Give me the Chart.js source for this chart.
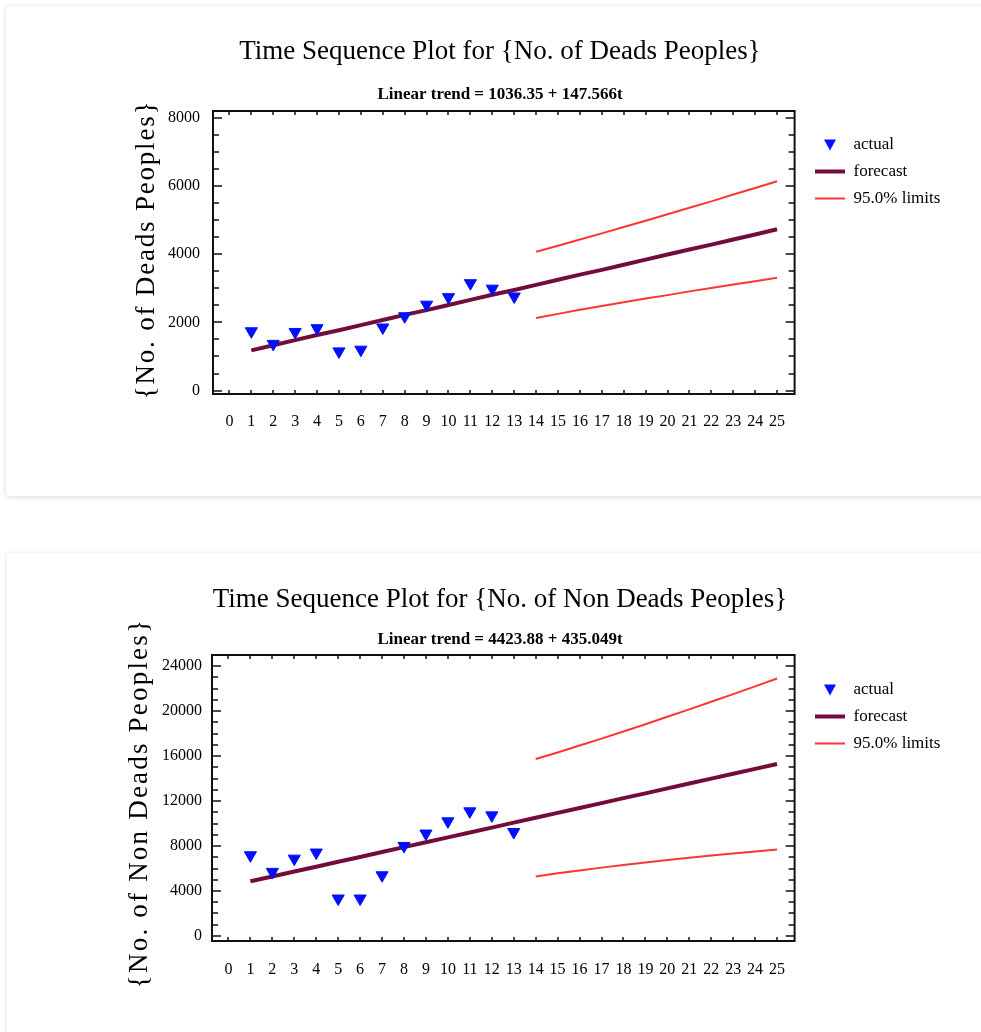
<!DOCTYPE html>
<html>
<head>
<meta charset="utf-8">
<script src="https://cdn.jsdelivr.net/npm/chart.js@4.4.1/dist/chart.umd.min.js"></script>
<style>
  body { margin: 0; background: #fff; overflow: hidden; width: 981px; height: 1032px; position: relative; }
  .card { position: absolute; background: #fff; border-radius: 4px; box-shadow: 0 1px 5px rgba(0,0,0,0.16); }
  .box { position: absolute; left: 0; width: 981px; }
</style>
</head>
<body>
<div class="card" style="left:6px; top:6px; width:1000px; height:490px;"></div>
<div class="card" style="left:7px; top:553px; width:1000px; height:500px;"></div>
<div class="box" style="top:20px; height:434px;"><canvas id="deadsChart"></canvas></div>
<div class="box" style="top:570px; height:431px;"><canvas id="nonDeadsChart"></canvas></div>
<script>
// periods
const tActual = [1, 2, 3, 4, 5, 6, 7, 8, 9, 10, 11, 12, 13];
const tForecast = [1, 2, 3, 4, 5, 6, 7, 8, 9, 10, 11, 12, 13, 14, 15, 16, 17, 18, 19, 20, 21, 22, 23, 24, 25];
const tLimits = [14, 15, 16, 17, 18, 19, 20, 21, 22, 23, 24, 25];
const xTicks = [0, 1, 2, 3, 4, 5, 6, 7, 8, 9, 10, 11, 12, 13, 14, 15, 16, 17, 18, 19, 20, 21, 22, 23, 24, 25];

// No. of Deads Peoples
const deadsActual = [1740, 1370, 1720, 1830, 1150, 1200, 1850, 2180, 2520, 2740, 3150, 2990, 2760];
const deadsForecast = [1180, 1330, 1480, 1630, 1770, 1920, 2070, 2220, 2360, 2510, 2660, 2810, 2950,
  3100, 3250, 3400, 3540, 3690, 3840, 3990, 4140, 4280, 4430, 4580, 4730];
const deadsUpper = [4070, 4250, 4430, 4610, 4800, 4980, 5170, 5360, 5550, 5750, 5940, 6140];
const deadsLower = [2130, 2250, 2370, 2480, 2590, 2700, 2800, 2910, 3010, 3110, 3210, 3310];
const deadsYTicks = [0, 2000, 4000, 6000, 8000];

// No. of Non Deads Peoples
const nonDeadsActual = [7180, 5700, 6880, 7420, 3330, 3330, 5400, 8010, 9110, 10200, 11090, 10730, 9250];
const nonDeadsForecast = [4860, 5290, 5730, 6160, 6600, 7030, 7470, 7900, 8340, 8770, 9210, 9640, 10080,
  10520, 10950, 11390, 11820, 12260, 12690, 13130, 13560, 14000, 14430, 14870, 15300];
const nonDeadsUpper = [15740, 16330, 16940, 17560, 18190, 18840, 19500, 20160, 20840, 21520, 22210, 22910];
const nonDeadsLower = [5290, 5570, 5830, 6080, 6320, 6540, 6750, 6960, 7150, 7340, 7520, 7690];
const nonDeadsYTicks = [0, 4000, 8000, 12000, 16000, 20000, 24000];

const serif = "'Liberation Serif', 'Times New Roman', serif";
const blue = '#0010ff';
Chart.defaults.color = '#000';
Chart.defaults.font.family = serif;

const pts = (xs, ys) => xs.map((x, i) => ({ x: x, y: ys[i] }));

// small down triangle for the legend (so the line width doesn't stretch it)
const triIcon = document.createElement('canvas');
triIcon.width = 14; triIcon.height = 14;
const tc = triIcon.getContext('2d');
tc.fillStyle = blue;
tc.beginPath(); tc.moveTo(1, 2); tc.lineTo(13, 2); tc.lineTo(7, 13); tc.closePath(); tc.fill();

// box frame, inward tick marks, spaced y title, legend placement
const frameTicks = {
  id: 'frameTicks',
  afterLayout(chart, args, opts) {
    const lg = chart.legend;
    if (!lg) return;
    const w = lg.right - lg.left, h = lg.bottom - lg.top;
    lg.left = opts.legendX; lg.right = lg.left + w;
    lg.top = opts.legendY; lg.bottom = lg.top + h;
  },
  beforeDatasetsDraw(chart, args, opts) {
    const { ctx, chartArea: a, scales: { x, y } } = chart;
    ctx.save();
    ctx.strokeStyle = '#111';
    ctx.lineWidth = 1.5;
    ctx.beginPath();
    y.ticks.forEach(t => {
      const py = Math.round(y.getPixelForValue(t.value));
      const len = t.label ? 9 : 6;
      ctx.moveTo(a.left, py); ctx.lineTo(a.left + len, py);
      ctx.moveTo(a.right, py); ctx.lineTo(a.right - len, py);
    });
    x.ticks.forEach(t => {
      const px = Math.round(x.getPixelForValue(t.value));
      ctx.moveTo(px, a.bottom); ctx.lineTo(px, a.bottom - 4);
      ctx.moveTo(px, a.top); ctx.lineTo(px, a.top + 4);
    });
    ctx.stroke();
    ctx.lineWidth = 2;
    ctx.strokeRect(a.left, a.top, a.right - a.left, a.bottom - a.top);

    // y axis title
    ctx.translate(opts.titleX, (a.top + a.bottom) / 2 + opts.titleShift);
    ctx.rotate(-Math.PI / 2);
    ctx.font = '27px ' + serif;
    ctx.letterSpacing = opts.spacing;
    ctx.fillStyle = '#000';
    ctx.textAlign = 'center';
    ctx.textBaseline = 'middle';
    ctx.fillText(opts.title, 0, 0);
    ctx.restore();
  }
};

function makeChart(id, o) {
  const minor = [];
  for (let v = 0; v <= o.yTicks[o.yTicks.length - 1]; v += o.yMinor) minor.push(v);
  return new Chart(document.getElementById(id), {
    type: 'scatter',
    data: {
      datasets: [
        {
          label: 'actual',
          data: pts(tActual, o.actual),
          pointStyle: 'triangle',
          rotation: 180,
          pointRadius: 7,
          backgroundColor: blue,
          borderColor: blue,
          borderWidth: 1,
          showLine: false
        },
        {
          label: 'forecast',
          data: pts(tForecast, o.forecast),
          showLine: true,
          pointRadius: 0,
          pointStyle: 'line',
          borderColor: '#720c3a',
          backgroundColor: '#720c3a',
          borderWidth: 4
        },
        {
          label: '95.0% limits',
          data: pts(tLimits, o.upper),
          showLine: true,
          pointRadius: 0,
          pointStyle: 'line',
          borderColor: '#ff3535',
          backgroundColor: '#ff3535',
          borderWidth: 2
        },
        {
          label: '',
          data: pts(tLimits, o.lower),
          showLine: true,
          pointRadius: 0,
          pointStyle: 'line',
          borderColor: '#ff3535',
          backgroundColor: '#ff3535',
          borderWidth: 2
        }
      ]
    },
    options: {
      responsive: true,
      maintainAspectRatio: false,
      animation: false,
      layout: { padding: { left: o.padLeft, right: o.padRight, top: 0, bottom: 0 } },
      plugins: {
        tooltip: { enabled: false },
        frameTicks: {
          title: o.yTitle, titleX: o.yTitleX, titleShift: o.yTitleShift, spacing: o.yTitleSpacing,
          legendX: 805, legendY: o.legendY
        },
        title: {
          display: true,
          text: o.title,
          font: { size: 27, weight: 'normal', family: serif },
          padding: { top: o.titleTop, bottom: o.titleBottom }
        },
        subtitle: {
          display: true,
          text: o.subtitle,
          font: { size: 17, weight: 'bold', family: serif },
          padding: { top: 0, bottom: o.subBottom }
        },
        legend: {
          position: 'right',
          align: 'start',
          labels: {
            usePointStyle: true,
            pointStyleWidth: 30,
            boxHeight: 9,
            padding: 10,
            font: { size: 17, family: serif },
            generateLabels: chart => Chart.defaults.plugins.legend.labels.generateLabels(chart)
              .filter(item => item.text !== '')
              .map(item => (item.datasetIndex === 0 ? Object.assign(item, { pointStyle: triIcon, rotation: 0 }) : item))
          }
        }
      },
      scales: {
        x: {
          type: 'linear',
          min: -0.75,
          max: 25.8,
          grid: { display: false },
          border: { display: false },
          afterBuildTicks: s => { s.ticks = xTicks.map(v => ({ value: v })); },
          afterFit: s => { s.height = 60; },
          ticks: { autoSkip: false, maxRotation: 0, padding: o.xPad, font: { size: 16, family: serif } }
        },
        y: {
          min: o.yMin,
          max: o.yMax,
          grid: { display: false },
          border: { display: false },
          afterBuildTicks: s => { s.ticks = minor.map(v => ({ value: v })); },
          afterFit: s => { s.width = o.frameLeft - o.padLeft; },
          ticks: {
            autoSkip: false,
            padding: o.yPad,
            font: { size: 16, family: serif },
            callback: v => (o.yTicks.includes(v) ? String(v) : '')
          }
        }
      }
    },
    plugins: [frameTicks]
  });
}

makeChart('deadsChart', {
  title: 'Time Sequence Plot for {No. of Deads Peoples}',
  subtitle: 'Linear trend = 1036.35 + 147.566t',
  yTitle: '{No. of Deads Peoples}',
  actual: deadsActual, forecast: deadsForecast, upper: deadsUpper, lower: deadsLower,
  yTicks: deadsYTicks, yMinor: 500, yMin: -100, yMax: 8200,
  padLeft: 60, padRight: 41, frameLeft: 213,
  titleTop: 15.8, titleBottom: 16.6, subBottom: 5.8, legendY: 106,
  xPad: 10, yPad: 5, yTitleX: 147, yTitleShift: -3, yTitleSpacing: '1.8px'
});

makeChart('nonDeadsChart', {
  title: 'Time Sequence Plot for {No. of Non Deads Peoples}',
  subtitle: 'Linear trend = 4423.88 + 435.049t',
  yTitle: '{No. of Non Deads Peoples}',
  actual: nonDeadsActual, forecast: nonDeadsForecast, upper: nonDeadsUpper, lower: nonDeadsLower,
  yTicks: nonDeadsYTicks, yMinor: 1000, yMin: -450, yMax: 25000,
  padLeft: 60, padRight: 41, frameLeft: 212,
  titleTop: 13.8, titleBottom: 13.6, subBottom: 4.8, legendY: 101,
  xPad: 11, yPad: 2, yTitleX: 140, yTitleShift: 5, yTitleSpacing: '2.2px'
});
</script>
</body>
</html>
